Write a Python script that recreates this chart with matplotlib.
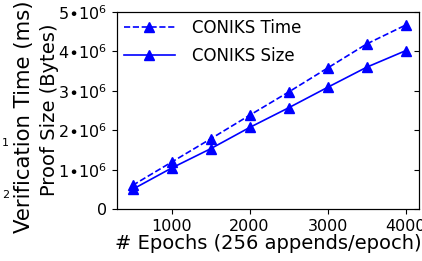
import numpy as np
import matplotlib.pyplot as plt
from matplotlib.ticker import FuncFormatter

# dati
epochs = [500, 1000, 1500, 2000, 2500, 3000, 3500, 4000]
coniks_time = [0.60e6, 1.19e6, 1.78e6, 2.38e6, 2.97e6, 3.58e6, 4.19e6, 4.67e6]
coniks_size = [0.50e6, 1.04e6, 1.53e6, 2.07e6, 2.57e6, 3.09e6, 3.60e6, 4.02e6]
x_ticks = [1000, 2000, 3000, 4000]
y_ticks = [0, 1e6, 2e6, 3e6, 4e6, 5e6]

fig = plt.figure(figsize=(4.22, 2.61), dpi=100)
ax = fig.add_axes([0.277, 0.199, 0.716, 0.755])

ax.plot(epochs, coniks_time, '--^', color='blue', lw=1.2, ms=7.5, label='CONIKS Time')
ax.plot(epochs, coniks_size, '-^', color='blue', lw=1.2, ms=7.5, label='CONIKS Size')

ax.set_xlim(300, 4170)
ax.set_ylim(0, 5e6)
ax.set_xticks(x_ticks)
ax.set_yticks(y_ticks)

def fmt(v, pos):
    if v == 0:
        return '0'
    return r'$%d{\bullet}10^{6}$' % round(v / 1e6)

ax.yaxis.set_major_formatter(FuncFormatter(fmt))
ax.tick_params(labelsize=11.5)

# tacche interne sul lato destro
ax2 = ax.twinx()
ax2.set_ylim(0, 5e6)
ax2.set_yticks(y_ticks)
ax2.tick_params(axis='y', direction='in', labelright=False)

ax.set_xlabel('# Epochs (256 appends/epoch)', fontsize=14, labelpad=0)
# le due etichette y messe a mano
fig.text(0.118, 0.578, 'Proof Size (Bytes)', rotation=90, fontsize=14,
         ha='center', va='center')
fig.text(0.057, 0.552, 'Verification Time (ms)', rotation=90, fontsize=15.3,
         ha='center', va='center')

# resti di etichette di un altro grafico tagliato
fig.text(0.004, 0.452, '1', fontsize=8, ha='left', va='center')
fig.text(0.004, 0.253, '2', fontsize=8, ha='left', va='center')

ax.legend(loc='upper left', frameon=False, fontsize=12, handlelength=3.1,
          borderaxespad=0.0, handletextpad=1.0, labelspacing=0.6,
          borderpad=0.4)

plt.savefig('out.png', dpi=100)
